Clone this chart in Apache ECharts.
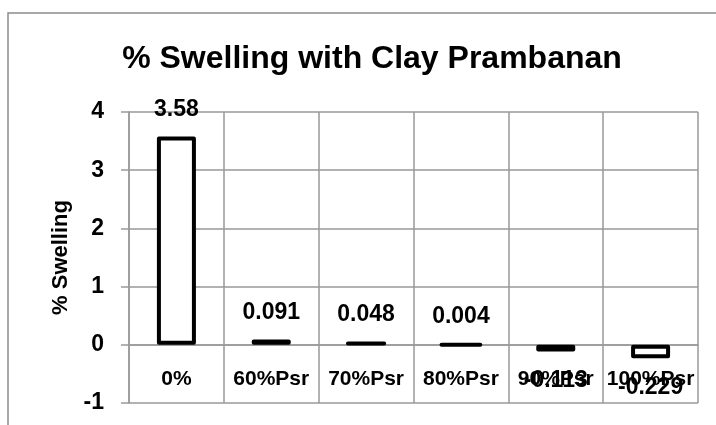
<!DOCTYPE html>
<html>
<head>
<meta charset="utf-8">
<script src="https://cdn.jsdelivr.net/npm/echarts@6/dist/echarts.min.js"></script>
<style>
  html, body { margin: 0; padding: 0; background: #fff; }
  #mychart { width: 716px; height: 425px; }
</style>
</head>
<body>
<div id="mychart"></div>
<script>
// data
const categories = ['0%', '60%Psr', '70%Psr', '80%Psr', '90%Psr', '100%Psr'];
const swelling = [3.58, 0.091, 0.048, 0.004, -0.113, -0.229];
const yTicks = { min: -1, max: 4, step: 1 };

const gridGrey = '#999999';
const font = '"Liberation Sans", Arial, sans-serif';

// plot box (px)
const plotTop = 112, plotBottom = 403;
// category axis sits on the zero line, labels with it
const zeroOffset = -(plotBottom - plotTop) * (0 - yTicks.min) / (yTicks.max - yTicks.min);

let myChart = echarts.init(document.getElementById('mychart'));

let barData = swelling.map(v => ({
  value: v,
  label: v < 0
    ? { position: 'bottom', distance: 18 }
    : { position: 'top', distance: 15 }
}));

let option = {
  backgroundColor: '#fff',
  animation: false,
  title: {
    text: '% Swelling with Clay Prambanan',
    left: 367,
    top: 38,
    textAlign: 'center',
    textStyle: { fontFamily: font, fontSize: 32, fontWeight: 'bold', color: '#000' }
  },
  graphic: [{
    type: 'rect',
    shape: { x: 8, y: 13, width: 730, height: 440 },
    style: { fill: null, stroke: '#8c8c8c', lineWidth: 1.5 },
    silent: true
  }],
  grid: { left: 129, right: 18, top: plotTop, bottom: 425 - plotBottom, outerBoundsMode: 'none', containLabel: false },
  xAxis: {
    type: 'category',
    data: categories,
    position: 'bottom',
    offset: zeroOffset,
    axisLine: { show: true, onZero: false, lineStyle: { color: gridGrey, width: 1.5 } },
    axisTick: { show: false },
    splitLine: { show: true, lineStyle: { color: gridGrey, width: 1.5 } },
    axisLabel: {
      margin: 24,
      fontFamily: font, fontSize: 21, fontWeight: 'bold', color: '#000',
      interval: 0
    }
  },
  yAxis: {
    type: 'value',
    min: yTicks.min,
    max: yTicks.max,
    interval: yTicks.step,
    name: '% Swelling',
    nameLocation: 'middle',
    nameGap: 57,
    nameTextStyle: { fontFamily: font, fontSize: 22, fontWeight: 'bold', color: '#000' },
    axisLine: { show: true, lineStyle: { color: gridGrey, width: 1.5 } },
    axisTick: { show: true, length: 8, lineStyle: { color: gridGrey, width: 1.5 } },
    splitLine: { show: true, lineStyle: { color: gridGrey, width: 1.5 } },
    axisLabel: {
      margin: 25,
      fontFamily: font, fontSize: 23, fontWeight: 'bold', color: '#000'
    }
  },
  series: [{
    name: '% Swelling',
    type: 'bar',
    barWidth: 39,
    data: barData,
    itemStyle: { color: '#fff', borderColor: '#000', borderWidth: 4, borderJoin: 'round' },
    label: {
      show: true,
      fontFamily: font, fontSize: 23, fontWeight: 'bold', color: '#000'
    }
  }]
};

myChart.setOption(option, true);
</script>
</body>
</html>
